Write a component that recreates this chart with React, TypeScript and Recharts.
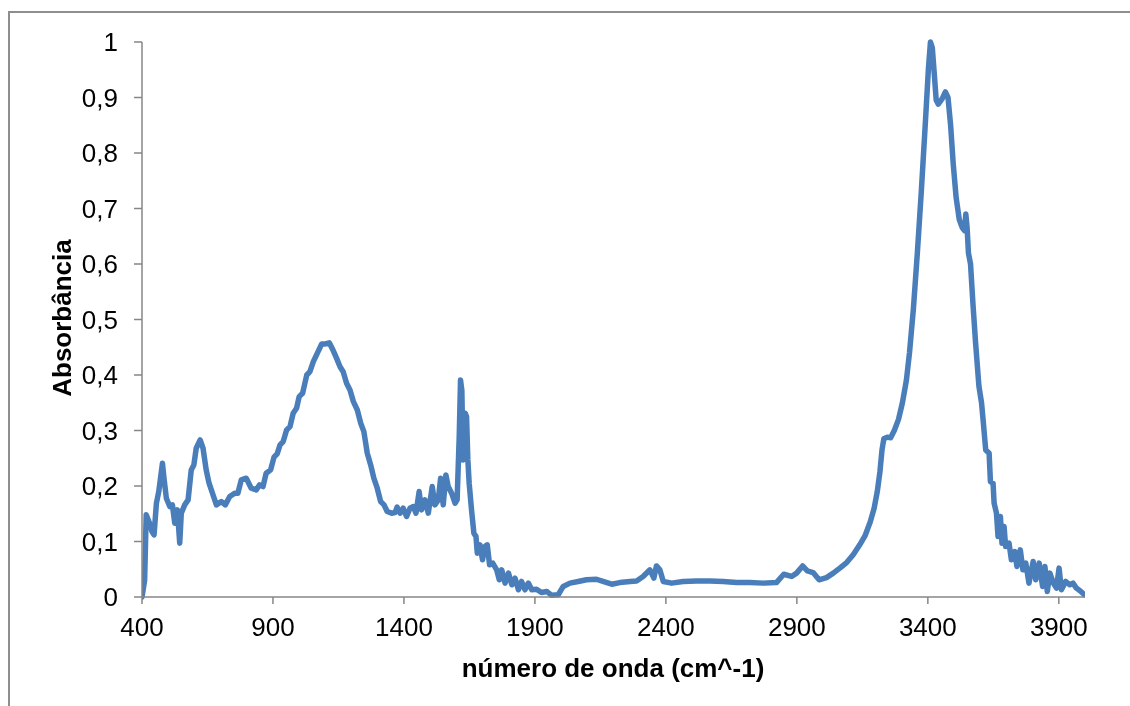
import React from 'react';
import { LineChart, Line, XAxis, YAxis } from 'recharts';

const wavenumbers: number[] = [
  400, 410, 416, 429, 438, 446, 455, 464, 478, 484, 493, 506, 516, 525, 535, 544, 550, 563, 576, 588,
  598, 607, 622, 633, 645, 656, 667, 684, 703, 718, 735, 754, 766, 779, 798, 817, 836, 849, 862, 874,
  891, 904, 916, 927, 939, 952, 965, 977, 990, 1000, 1013, 1029, 1041, 1054, 1069, 1086, 1099, 1115, 1130, 1143,
  1156, 1168, 1181, 1194, 1207, 1222, 1235, 1247, 1260, 1273, 1285, 1298, 1311, 1324, 1336, 1353, 1366, 1374, 1385, 1397,
  1410, 1423, 1436, 1446, 1458, 1467, 1480, 1493, 1508, 1518, 1531, 1540, 1550, 1560, 1569, 1582, 1595, 1603, 1611, 1616,
  1621, 1626, 1634, 1639, 1644, 1649, 1658, 1667, 1675, 1680, 1690, 1700, 1709, 1718, 1727, 1739, 1754, 1764, 1773, 1786,
  1799, 1812, 1824, 1837, 1849, 1862, 1875, 1888, 1906, 1925, 1945, 1964, 1989, 2008, 2034, 2065, 2097, 2135, 2160, 2193,
  2224, 2263, 2288, 2313, 2339, 2354, 2364, 2377, 2390, 2422, 2466, 2517, 2568, 2619, 2670, 2720, 2771, 2822, 2850, 2880,
  2899, 2922, 2940, 2962, 2985, 3013, 3039, 3064, 3090, 3115, 3140, 3160, 3180, 3195, 3207, 3217, 3225, 3232, 3245, 3258,
  3272, 3288, 3303, 3318, 3330, 3345, 3360, 3375, 3390, 3402, 3410, 3417, 3425, 3432, 3440, 3455, 3467, 3477, 3487, 3497,
  3508, 3520, 3532, 3540, 3545, 3550, 3555, 3563, 3572, 3582, 3595, 3605, 3611, 3621, 3634, 3639, 3649, 3653, 3662, 3668,
  3677, 3683, 3691, 3697, 3710, 3719, 3732, 3740, 3753, 3763, 3774, 3786, 3802, 3812, 3825, 3838, 3847, 3856, 3866, 3879,
  3891, 3901, 3910, 3926, 3942, 3954, 3967, 3982, 3998,
];

const absorbance: number[] = [
  0, 0.03, 0.148, 0.133, 0.118, 0.112, 0.169, 0.19, 0.241, 0.214, 0.178, 0.163, 0.166, 0.133, 0.157, 0.097, 0.151, 0.166, 0.175, 0.229,
  0.238, 0.268, 0.283, 0.268, 0.229, 0.205, 0.19, 0.166, 0.172, 0.166, 0.181, 0.187, 0.187, 0.211, 0.214, 0.196, 0.193, 0.202, 0.199, 0.223,
  0.229, 0.252, 0.258, 0.274, 0.28, 0.301, 0.307, 0.331, 0.34, 0.361, 0.367, 0.4, 0.406, 0.424, 0.439, 0.456, 0.456, 0.458, 0.444, 0.43,
  0.415, 0.406, 0.385, 0.373, 0.352, 0.337, 0.313, 0.298, 0.259, 0.238, 0.214, 0.196, 0.172, 0.166, 0.154, 0.151, 0.152, 0.162, 0.151, 0.16,
  0.145, 0.16, 0.163, 0.151, 0.19, 0.157, 0.175, 0.151, 0.199, 0.166, 0.175, 0.214, 0.166, 0.22, 0.199, 0.187, 0.169, 0.175, 0.289, 0.391,
  0.373, 0.247, 0.331, 0.325, 0.247, 0.205, 0.157, 0.115, 0.109, 0.079, 0.094, 0.067, 0.091, 0.094, 0.058, 0.061, 0.049, 0.031, 0.049, 0.025,
  0.043, 0.022, 0.034, 0.013, 0.028, 0.013, 0.025, 0.013, 0.014, 0.008, 0.01, 0.003, 0.004, 0.019, 0.025, 0.028, 0.031, 0.032, 0.028, 0.023,
  0.026, 0.028, 0.029, 0.037, 0.049, 0.034, 0.056, 0.049, 0.028, 0.025, 0.028, 0.029, 0.029, 0.028, 0.026, 0.026, 0.025, 0.026, 0.041, 0.037,
  0.043, 0.056, 0.047, 0.044, 0.031, 0.035, 0.043, 0.052, 0.062, 0.076, 0.094, 0.11, 0.135, 0.16, 0.19, 0.225, 0.265, 0.285, 0.288, 0.287,
  0.3, 0.32, 0.35, 0.39, 0.44, 0.52, 0.62, 0.73, 0.85, 0.95, 1.0, 0.99, 0.94, 0.895, 0.888, 0.898, 0.91, 0.9, 0.85, 0.78,
  0.72, 0.68, 0.665, 0.66, 0.69, 0.665, 0.62, 0.6, 0.53, 0.46, 0.38, 0.35, 0.319, 0.265, 0.259, 0.208, 0.205, 0.169, 0.151, 0.109,
  0.145, 0.097, 0.127, 0.091, 0.097, 0.067, 0.082, 0.055, 0.085, 0.049, 0.061, 0.025, 0.064, 0.031, 0.061, 0.019, 0.055, 0.01, 0.043, 0.025,
  0.016, 0.052, 0.013, 0.028, 0.022, 0.025, 0.016, 0.011, 0.004,
];

const xTicks: number[] = [400, 900, 1400, 1900, 2400, 2900, 3400, 3900];
const yTicks: number[] = [0, 0.1, 0.2, 0.3, 0.4, 0.5, 0.6, 0.7, 0.8, 0.9, 1];

const xTitle = 'número de onda (cm^-1)';
const yTitle = 'Absorbância';

const data = wavenumbers.map((w, i) => ({ w, a: absorbance[i] }));

const FONT = '"Liberation Sans", Arial, sans-serif';
const AXIS = '#868686';

export default function App() {
  return (
    <div style={{ position: 'relative', width: 1122, height: 690, fontFamily: FONT }}>
      <div
        style={{
          position: 'fixed',
          left: 8,
          top: 11,
          width: 1400,
          height: 1000,
          border: '2px solid #8e8e8e',
          pointerEvents: 'none',
        }}
      />
      <LineChart
        width={1122}
        height={690}
        data={data}
        margin={{ top: 34, right: 45, bottom: 41, left: 0 }}
        style={{ position: 'absolute', left: 0, top: 0 }}
      >
        <XAxis
          dataKey="w"
          type="number"
          domain={[400, 4000]}
          ticks={xTicks}
          allowDataOverflow
          height={60}
          tickSize={7}
          tickMargin={14}
          axisLine={{ stroke: AXIS, strokeWidth: 1.5 }}
          tickLine={{ stroke: AXIS, strokeWidth: 1.5 }}
          tick={{ fill: '#000', fontSize: 26, fontFamily: FONT }}
          interval={0}
        />
        <YAxis
          type="number"
          domain={[0, 1]}
          ticks={yTicks}
          width={134}
          tickSize={8}
          tickMargin={16}
          axisLine={{ stroke: AXIS, strokeWidth: 1.5 }}
          tickLine={{ stroke: AXIS, strokeWidth: 1.5 }}
          tick={{ fill: '#000', fontSize: 26, fontFamily: FONT }}
          tickFormatter={(v: number) => String(v).replace('.', ',')}
          interval={0}
        />
        <Line
          type="linear"
          dataKey="a"
          stroke="#4a7ebb"
          strokeWidth={5.5}
          dot={false}
          activeDot={false}
          isAnimationActive={false}
          strokeLinejoin="round"
          strokeLinecap="round"
        />
      </LineChart>
      <div
        style={{
          position: 'absolute',
          left: 605,
          top: 647,
          transform: 'translateX(-50%)',
          fontSize: 26,
          lineHeight: '26px',
          fontWeight: 'bold',
          whiteSpace: 'nowrap',
          color: '#000',
        }}
      >
        {xTitle}
      </div>
      <div
        style={{
          position: 'absolute',
          left: 53.5,
          top: 310,
          transform: 'translate(-50%, -50%) rotate(-90deg)',
          fontSize: 26,
          lineHeight: '26px',
          fontWeight: 'bold',
          whiteSpace: 'nowrap',
          color: '#000',
        }}
      >
        {yTitle}
      </div>
    </div>
  );
}
